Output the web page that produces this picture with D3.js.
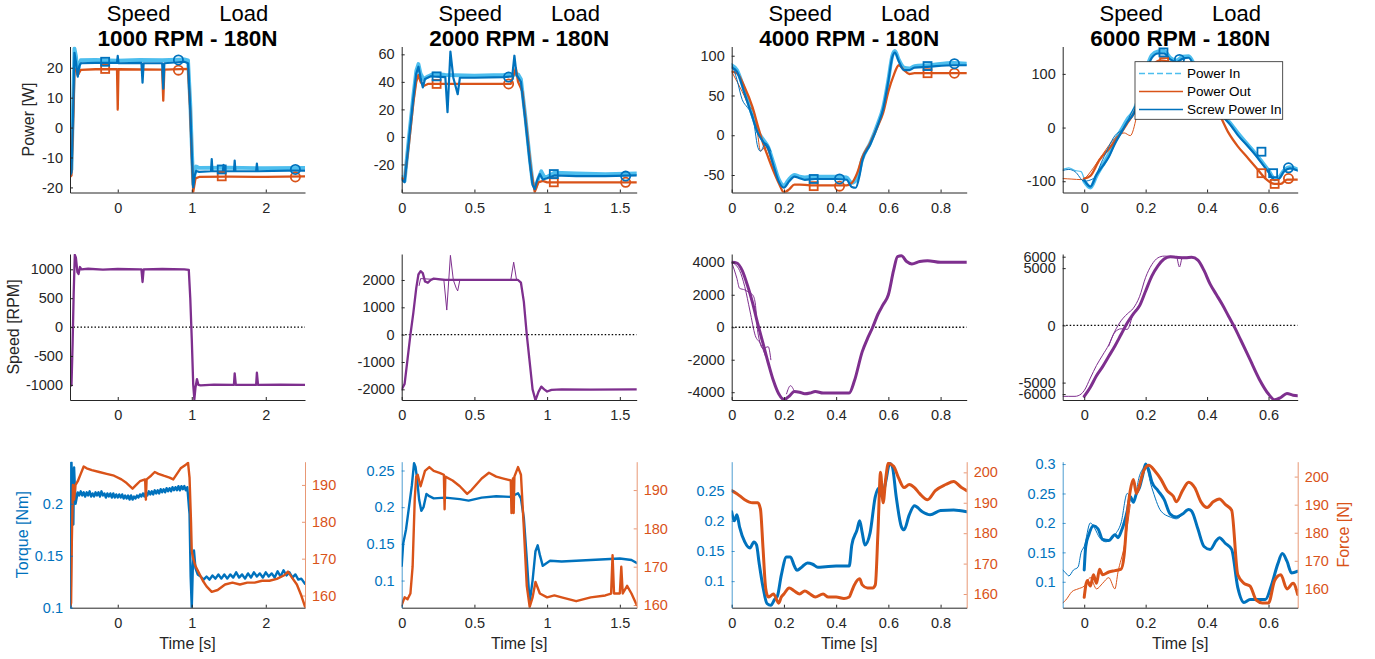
<!DOCTYPE html>
<html><head><meta charset="utf-8">
<script src="https://cdn.jsdelivr.net/npm/d3@7"></script>
<style>body{margin:0;background:#fff}svg{display:block}</style>
</head><body>
<svg id="chart" width="1375" height="659"></svg>
<script>
// ---------------- DATA ----------------
const titles = ["1000 RPM - 180N", "2000 RPM - 180N", "4000 RPM - 180N", "6000 RPM - 180N"];
const legendLabels = ["Power In", "Power Out", "Screw Power In"];

// x ticks per column
const xTicks = [[0,1,2],[0,0.5,1,1.5],[0,0.2,0.4,0.6,0.8],[0,0.2,0.4,0.6]];
const xDomains = [[-0.645,2.53],[0,1.616],[0,0.9],[-0.07,0.695]];
// y ticks / domains
const powerTicks = [[-20,-10,0,10,20],[-20,0,20,40,60],[-50,0,50,100],[-100,0,100]];
const powerDomains = [[-21.7,27.1],[-40.4,65.7],[-72,111.6],[-121,151]];
const speedTicks = [[-1000,-500,0,500,1000],[-2000,-1000,0,1000,2000],[-4000,-2000,0,2000,4000],[-6000,-5000,0,5000,6000]];
const speedDomains = [[-1262,1265],[-2390,2950],[-4480,4510],[-6520,6235]];
const torqueTicks = [[0.1,0.15,0.2],[0.1,0.15,0.2,0.25],[0.1,0.15,0.2,0.25],[0.1,0.15,0.2,0.25,0.3]];
const torqueDomains = [[0.1,0.2405],[0.063,0.262],[0.056,0.298],[0.056,0.304]];
const forceTicks = [[160,170,180,190],[160,170,180,190],[160,170,180,190,200],[160,170,180,190,200]];
const forceDomains = [[156.7,196.3],[159.3,197.4],[155.5,203.5],[153.3,205.3]];

// ---- Column 1 (1000 RPM) ----
const c1PowerIn = [[-0.645,-15],[-0.625,-14],[-0.6,12],[-0.585,26.5],[-0.565,24],[-0.54,18],[-0.52,21],[-0.5,22.5],[-0.3,22.6],[0,22.4],[0.3,22.6],[0.6,22.5],[0.9,22.8],[0.95,22.5],[0.98,8],[1.0,-6],[1.02,-19],[1.04,-15],[1.06,-13],[1.1,-13.5],[1.5,-13.4],[2.0,-13.6],[2.53,-13.5]];
const c1ScrewIn = [[-0.645,-16],[-0.625,-15],[-0.6,8],[-0.585,25],[-0.565,22],[-0.54,17],[-0.52,20.5],[-0.5,21.5],[-0.3,21.6],[-0.01,21.6],[0,24],[0.01,21.5],[0.32,21.6],[0.335,15],[0.35,21.5],[0.6,21.5],[0.615,13],[0.63,21.5],[0.9,22],[0.95,21.5],[0.98,6],[1.0,-8],[1.02,-20],[1.04,-16],[1.06,-14.5],[1.1,-14.8],[1.26,-14.6],[1.27,-10.5],[1.28,-14.6],[1.42,-14.6],[1.43,-12.5],[1.44,-14.6],[1.57,-14.6],[1.58,-11],[1.59,-14.6],[1.87,-14.6],[1.88,-12],[1.89,-14.6],[2.3,-14.4],[2.53,-14.4]];
const c1PowerOut = [[-0.645,-16.5],[-0.625,-16],[-0.6,4],[-0.585,19],[-0.56,19.5],[-0.54,17.5],[-0.5,19.3],[-0.3,19.5],[-0.01,19.5],[0,6],[0.01,19.5],[0.6,19.4],[0.615,9],[0.63,19.4],[0.95,19.6],[0.98,5],[1.0,-10],[1.02,-21.5],[1.05,-17],[1.1,-16.5],[1.5,-16.4],[2.0,-16.5],[2.53,-16.3]];
const c1SqBlue = [[-0.17,22],[1.405,-14]], c1SqOrange = [[-0.17,19.6],[1.405,-16.3]];
const c1CiBlue = [[0.82,22.6],[2.4,-14]], c1CiOrange = [[0.82,19.2],[2.4,-16.5]];
const c1Speed = [[-0.645,-1000],[-0.625,-1010],[-0.61,-300],[-0.595,600],[-0.58,1250],[-0.565,1200],[-0.545,950],[-0.53,920],[-0.51,1040],[-0.49,1000],[-0.4,1010],[-0.2,995],[0,1005],[0.3,1000],[0.32,1000],[0.335,780],[0.35,1000],[0.6,1005],[0.9,1000],[0.96,990],[0.98,500],[1.0,-200],[1.02,-1000],[1.035,-1250],[1.05,-1050],[1.07,-900],[1.09,-1000],[1.12,-1010],[1.3,-995],[1.57,-1000],[1.58,-800],[1.595,-1000],[1.87,-1000],[1.88,-790],[1.895,-1000],[2.2,-995],[2.53,-1000]];
const c1Torque = [[-0.645,0.13],[-0.635,0.1],[-0.625,0.24],[-0.61,0.2],[-0.6,0.18],[-0.59,0.235],[-0.57,0.2],[-0.54,0.211],[-0.52,0.208],[-0.5,0.212],[-0.48,0.208],[-0.46,0.211],[-0.44,0.207],[-0.42,0.211],[-0.4,0.208],[-0.38,0.212],[-0.36,0.207],[-0.34,0.21],[-0.32,0.207],[-0.3,0.211],[-0.28,0.208],[-0.26,0.211],[-0.24,0.207],[-0.22,0.212],[-0.2,0.208],[-0.18,0.21],[-0.16,0.206],[-0.14,0.21],[-0.12,0.207],[-0.1,0.21],[-0.08,0.206],[-0.06,0.21],[-0.04,0.206],[-0.02,0.209],[0,0.206],[0.02,0.209],[0.04,0.206],[0.06,0.209],[0.08,0.205],[0.1,0.208],[0.12,0.205],[0.14,0.208],[0.16,0.204],[0.18,0.208],[0.2,0.204],[0.22,0.207],[0.24,0.205],[0.26,0.208],[0.28,0.206],[0.3,0.209],[0.32,0.207],[0.34,0.21],[0.36,0.207],[0.38,0.211],[0.4,0.208],[0.42,0.212],[0.44,0.209],[0.46,0.212],[0.48,0.209],[0.5,0.213],[0.52,0.21],[0.54,0.213],[0.56,0.21],[0.58,0.214],[0.6,0.211],[0.62,0.214],[0.64,0.211],[0.66,0.215],[0.68,0.212],[0.7,0.215],[0.72,0.212],[0.74,0.216],[0.76,0.213],[0.78,0.216],[0.8,0.213],[0.82,0.217],[0.84,0.213],[0.86,0.217],[0.88,0.214],[0.9,0.217],[0.92,0.213],[0.94,0.216],[0.97,0.19],[0.985,0.13],[1.0,0.1],[1.015,0.14],[1.03,0.155],[1.05,0.138],[1.08,0.132],[1.12,0.13],[1.16,0.127],[1.2,0.13],[1.24,0.127],[1.28,0.131],[1.32,0.128],[1.36,0.132],[1.4,0.128],[1.44,0.132],[1.48,0.128],[1.52,0.132],[1.56,0.129],[1.6,0.134],[1.64,0.129],[1.68,0.132],[1.72,0.128],[1.76,0.133],[1.8,0.129],[1.84,0.134],[1.88,0.13],[1.92,0.133],[1.96,0.129],[2.0,0.134],[2.04,0.13],[2.08,0.133],[2.12,0.129],[2.16,0.135],[2.2,0.13],[2.24,0.136],[2.28,0.131],[2.32,0.134],[2.36,0.129],[2.4,0.132],[2.44,0.127],[2.48,0.128],[2.53,0.123]];
const c1Force = [[-0.645,157],[-0.63,158],[-0.62,175],[-0.605,190],[-0.59,186],[-0.57,190],[-0.54,191],[-0.5,193],[-0.46,195],[-0.42,194.5],[-0.35,194],[-0.25,193.5],[-0.15,193],[-0.05,192.5],[0.05,191.5],[0.12,190.5],[0.2,189],[0.25,190],[0.3,191],[0.37,191.5],[0.38,186],[0.39,191.5],[0.45,192.5],[0.5,193.5],[0.55,193],[0.62,192.5],[0.7,192],[0.75,191.5],[0.8,193],[0.85,194.5],[0.92,195.5],[0.95,196],[0.97,192],[0.99,180],[1.0,172],[1.02,170],[1.05,168],[1.1,166],[1.15,164],[1.2,162.5],[1.27,161],[1.35,161.5],[1.45,163],[1.55,163.5],[1.65,163],[1.75,163.5],[1.85,163.5],[1.95,164],[2.05,164],[2.15,164.5],[2.25,165.5],[2.3,166.5],[2.35,165],[2.42,163],[2.48,160],[2.53,157]];

// ---- Column 2 (2000 RPM) ----
const c2PowerIn = [[0,-29],[0.02,-32],[0.05,0],[0.08,30],[0.1,48],[0.115,53],[0.13,46],[0.15,42],[0.18,44],[0.22,46],[0.3,45],[0.5,44.5],[0.7,45],[0.8,45.5],[0.82,42],[0.85,15],[0.88,-15],[0.9,-33],[0.92,-37],[0.94,-30],[0.96,-25],[0.98,-29],[1.0,-29],[1.05,-26],[1.2,-26.5],[1.4,-27],[1.616,-26.5]];
const c2ScrewIn = [[0,-31],[0.02,-33],[0.05,-2],[0.08,28],[0.1,46],[0.115,51],[0.13,43],[0.145,36],[0.16,42],[0.2,44],[0.3,43.5],[0.315,18],[0.335,62],[0.355,43],[0.375,35],[0.385,31],[0.4,43],[0.5,43],[0.7,43.5],[0.76,44],[0.775,59],[0.79,45],[0.82,40],[0.85,12],[0.88,-18],[0.9,-35],[0.915,-38],[0.93,-32],[0.95,-27],[0.97,-31],[1.0,-30],[1.05,-28],[1.2,-28.5],[1.4,-28.5],[1.616,-28]];
const c2PowerOut = [[0,-30],[0.02,-31],[0.05,-5],[0.08,25],[0.1,40],[0.115,45],[0.13,40],[0.15,37],[0.18,38.5],[0.25,38.5],[0.5,38.5],[0.75,38.5],[0.77,45],[0.785,50],[0.8,40],[0.83,33],[0.86,5],[0.89,-25],[0.915,-40],[0.94,-33],[0.97,-32],[1.0,-33],[1.2,-33],[1.616,-33]];
const c2SqBlue = [[0.24,44],[1.046,-27]], c2SqOrange = [[0.24,38.5],[1.046,-33]];
const c2CiBlue = [[0.735,43.5],[1.54,-28.5]], c2CiOrange = [[0.735,38.5],[1.54,-33]];
const c2Speed = [[0,-2000],[0.02,-1800],[0.04,-900],[0.06,0],[0.08,800],[0.1,1700],[0.115,2200],[0.13,2320],[0.145,2250],[0.16,1950],[0.18,1900],[0.2,2000],[0.22,2050],[0.3,2000],[0.5,2000],[0.7,2000],[0.8,2000],[0.82,1900],[0.84,1200],[0.86,0],[0.88,-1000],[0.9,-2000],[0.92,-2400],[0.94,-2100],[0.96,-1900],[0.98,-2000],[1.0,-2080],[1.03,-2020],[1.1,-2000],[1.3,-2010],[1.616,-2000]];
const c2SpeedThin = [[0.12,1800],[0.13,2050],[0.29,2000],[0.31,900],[0.335,2900],[0.355,2000],[0.375,1700],[0.385,1600],[0.4,2000],[0.75,2000],[0.77,2650],[0.79,2000]];
const c2Torque = [[0,0.12],[0.01,0.15],[0.03,0.17],[0.05,0.2],[0.07,0.23],[0.085,0.26],[0.095,0.255],[0.105,0.24],[0.12,0.21],[0.135,0.195],[0.15,0.2],[0.17,0.218],[0.19,0.215],[0.22,0.212],[0.3,0.213],[0.4,0.211],[0.46,0.209],[0.55,0.213],[0.65,0.215],[0.75,0.214],[0.8,0.219],[0.82,0.212],[0.84,0.185],[0.86,0.13],[0.88,0.07],[0.9,0.1],[0.92,0.14],[0.935,0.148],[0.95,0.135],[0.97,0.12],[0.99,0.123],[1.02,0.127],[1.1,0.126],[1.2,0.127],[1.3,0.128],[1.4,0.129],[1.5,0.13],[1.58,0.128],[1.616,0.124]];
const c2Force = [[0,160],[0.02,162],[0.04,161.5],[0.06,163],[0.075,170],[0.09,188],[0.1,193.5],[0.11,194],[0.13,191],[0.16,195],[0.19,196],[0.22,195],[0.26,194.5],[0.29,194],[0.295,185],[0.3,193.5],[0.35,192.5],[0.4,191],[0.45,189],[0.48,190],[0.55,193],[0.6,194.5],[0.65,193.5],[0.7,193],[0.75,192.5],[0.755,184],[0.765,193],[0.77,184],[0.775,193.5],[0.8,196],[0.82,194],[0.84,180],[0.86,165],[0.88,159.5],[0.9,162],[0.92,166],[0.95,163],[1.0,162],[1.05,162.5],[1.1,162],[1.2,161],[1.3,162],[1.4,162.5],[1.44,163],[1.45,173],[1.46,163],[1.5,163],[1.51,170],[1.52,163],[1.55,165],[1.58,163],[1.616,160]];

// ---- Column 3 (4000 RPM) ----
const c3PowerIn = [[0,88],[0.02,82],[0.05,55],[0.08,25],[0.1,5],[0.12,-5],[0.14,-15],[0.16,-35],[0.18,-55],[0.2,-63],[0.22,-55],[0.24,-50],[0.26,-52],[0.28,-53],[0.32,-52],[0.4,-52],[0.44,-53],[0.46,-60],[0.48,-55],[0.5,-30],[0.53,-10],[0.56,15],[0.58,35],[0.6,70],[0.615,100],[0.625,106],[0.64,95],[0.66,85],[0.68,84],[0.7,87],[0.75,88],[0.85,91],[0.9,90]];
const c3ScrewIn = [[0,85],[0.02,80],[0.05,52],[0.08,22],[0.1,3],[0.12,-8],[0.14,-17],[0.16,-38],[0.18,-58],[0.2,-66],[0.22,-58],[0.24,-52],[0.26,-54],[0.28,-56],[0.32,-55],[0.4,-55],[0.44,-56],[0.46,-65],[0.475,-66],[0.49,-50],[0.5,-32],[0.53,-12],[0.56,13],[0.58,33],[0.6,68],[0.615,98],[0.625,104],[0.64,93],[0.66,82],[0.68,82],[0.7,85],[0.75,86],[0.85,88],[0.9,88]];
const c3PowerOut = [[0,80],[0.02,78],[0.05,60],[0.08,35],[0.1,12],[0.12,-10],[0.14,-28],[0.16,-45],[0.18,-60],[0.2,-72],[0.22,-68],[0.24,-62],[0.26,-62],[0.3,-63],[0.4,-63],[0.44,-63],[0.46,-60],[0.48,-48],[0.5,-28],[0.53,-10],[0.56,12],[0.58,28],[0.6,55],[0.62,75],[0.64,88],[0.66,82],[0.68,77],[0.7,78],[0.8,78],[0.9,78]];
const c3ScrewThin = [[0,90],[0.02,70],[0.04,45],[0.06,35],[0.08,25],[0.1,-15],[0.11,-20],[0.13,-10],[0.15,-20]];
const c3OutThin = [[0,80],[0.04,55],[0.07,35],[0.085,30],[0.1,0],[0.11,-20],[0.13,-15],[0.15,-30]];
const c3SqBlue = [[0.314,-55],[0.75,87]], c3SqOrange = [[0.314,-64],[0.75,78]];
const c3CiBlue = [[0.413,-55],[0.853,90]], c3CiOrange = [[0.413,-64],[0.853,78]];
const c3Speed = [[0,4000],[0.02,3950],[0.04,3500],[0.06,2600],[0.08,1500],[0.1,200],[0.12,-1000],[0.14,-2200],[0.16,-3300],[0.18,-4100],[0.2,-4450],[0.22,-4250],[0.24,-3950],[0.26,-4000],[0.28,-4100],[0.3,-4050],[0.32,-3950],[0.35,-4050],[0.4,-4050],[0.45,-4050],[0.47,-3300],[0.5,-1500],[0.52,-700],[0.54,0],[0.56,800],[0.58,1400],[0.6,2000],[0.62,3500],[0.635,4350],[0.65,4400],[0.67,4050],[0.69,3900],[0.72,4050],[0.75,4100],[0.8,4000],[0.9,4000]];
const c3SpeedThinA = [[0,4000],[0.02,3000],[0.03,2400],[0.05,2300],[0.07,2100],[0.08,2000],[0.09,1500],[0.1,-300],[0.12,-1300],[0.14,-1200],[0.15,-2000]];
const c3SpeedThinB = [[0,4000],[0.03,3500],[0.05,2500],[0.07,1000],[0.09,-500],[0.11,-1000],[0.13,-1800]];
const c3SpeedThinC = [[0.21,-4100],[0.225,-3600],[0.24,-3950]];
const c3Torque = [[0,0.215],[0.01,0.2],[0.02,0.21],[0.03,0.19],[0.05,0.165],[0.07,0.155],[0.085,0.165],[0.095,0.16],[0.105,0.13],[0.12,0.09],[0.135,0.063],[0.15,0.06],[0.165,0.07],[0.175,0.075],[0.19,0.11],[0.21,0.14],[0.225,0.14],[0.24,0.125],[0.25,0.118],[0.27,0.124],[0.29,0.13],[0.31,0.128],[0.33,0.123],[0.36,0.124],[0.4,0.125],[0.45,0.125],[0.46,0.16],[0.48,0.185],[0.49,0.2],[0.5,0.18],[0.51,0.16],[0.53,0.18],[0.55,0.24],[0.565,0.255],[0.575,0.24],[0.59,0.265],[0.605,0.295],[0.615,0.29],[0.63,0.24],[0.65,0.19],[0.66,0.185],[0.68,0.21],[0.7,0.225],[0.73,0.215],[0.76,0.21],[0.8,0.217],[0.85,0.218],[0.9,0.215]];
const c3Force = [[0,194],[0.02,193],[0.05,191],[0.08,190],[0.1,190],[0.11,188],[0.12,175],[0.13,162],[0.14,159],[0.16,160],[0.18,157],[0.19,159],[0.2,160],[0.22,162],[0.24,161],[0.26,160],[0.28,161],[0.3,160],[0.32,159],[0.35,160],[0.37,159],[0.4,159],[0.43,158.5],[0.45,159],[0.46,161],[0.47,163],[0.49,165],[0.5,163],[0.52,162],[0.54,162],[0.55,163],[0.56,180],[0.57,200],[0.58,190],[0.59,198],[0.6,203],[0.62,202],[0.64,198],[0.66,195],[0.68,196],[0.7,195],[0.72,193],[0.75,191],[0.78,194],[0.82,196],[0.85,197],[0.88,195],[0.9,194]];

// ---- Column 4 (6000 RPM) ----
const c4PowerIn = [[0,-100],[0.02,-112],[0.04,-90],[0.06,-70],[0.08,-50],[0.1,-25],[0.12,-5],[0.14,15],[0.16,30],[0.18,60],[0.2,105],[0.22,135],[0.24,142],[0.26,143],[0.28,130],[0.3,125],[0.32,132],[0.34,133],[0.36,115],[0.4,70],[0.45,25],[0.48,5],[0.5,-10],[0.53,-30],[0.56,-50],[0.58,-65],[0.6,-80],[0.62,-95],[0.635,-92],[0.65,-80],[0.67,-74],[0.695,-78]];
const c4PowerInThin = [[-0.07,-78],[-0.05,-75],[-0.03,-80],[-0.01,-82],[0,-95],[0.02,-110]];
const c4ScrewIn = [[0,-98],[0.02,-110],[0.04,-88],[0.06,-72],[0.08,-55],[0.1,-30],[0.12,-10],[0.14,10],[0.16,25],[0.18,55],[0.2,100],[0.22,130],[0.24,138],[0.26,138],[0.28,127],[0.3,122],[0.32,128],[0.34,130],[0.36,112],[0.4,68],[0.45,22],[0.48,2],[0.5,-14],[0.53,-33],[0.56,-53],[0.58,-68],[0.6,-83],[0.62,-98],[0.635,-95],[0.65,-82],[0.67,-76],[0.695,-80]];
const c4ScrewThin = [[-0.07,-80],[-0.05,-78],[-0.03,-82],[0,-100],[0.03,-95],[0.06,-60],[0.1,-15],[0.13,0],[0.16,35],[0.18,50]];
const c4PowerOut = [[0,-95],[0.02,-90],[0.05,-60],[0.08,-40],[0.1,-25],[0.12,-10],[0.14,8],[0.16,25],[0.18,50],[0.2,90],[0.22,115],[0.25,125],[0.28,122],[0.3,118],[0.33,115],[0.36,95],[0.4,65],[0.44,25],[0.47,-10],[0.5,-35],[0.53,-55],[0.56,-75],[0.59,-95],[0.62,-105],[0.64,-105],[0.66,-97],[0.695,-97]];
const c4OutThin = [[-0.07,-95],[-0.04,-96],[-0.01,-97],[0,-95],[0.03,-75],[0.06,-50],[0.1,-20],[0.13,-10],[0.15,-15],[0.17,20]];
const c4SqBlue = [[0.258,140],[0.577,-45],[0.615,-85]], c4SqOrange = [[0.26,122],[0.577,-85],[0.62,-105]];
const c4CiBlue = [[0.31,127],[0.665,-75]], c4CiOrange = [[0.665,-95]];
const c4Speed = [[0,-6200],[0.02,-5400],[0.04,-4400],[0.06,-3600],[0.08,-2700],[0.1,-1800],[0.12,-800],[0.14,200],[0.16,1000],[0.18,1700],[0.2,3000],[0.22,4300],[0.24,5200],[0.26,5800],[0.28,6000],[0.3,5950],[0.33,5900],[0.35,5950],[0.37,5700],[0.39,4800],[0.41,3600],[0.43,2700],[0.45,1800],[0.47,800],[0.49,-200],[0.51,-1300],[0.54,-3000],[0.57,-4700],[0.6,-6000],[0.62,-6500],[0.64,-6300],[0.66,-5950],[0.68,-6100],[0.695,-6150]];
const c4SpeedThinA = [[-0.07,-6200],[-0.03,-6200],[-0.02,-6150],[0,-5700],[0.02,-4600],[0.04,-3500],[0.06,-2600],[0.08,-1700],[0.1,-500],[0.12,400],[0.14,1000],[0.16,1500],[0.18,2500],[0.2,4200],[0.22,5300],[0.24,5900],[0.26,6050],[0.3,6000],[0.31,5100],[0.32,5950],[0.35,5950]];
const c4SpeedThinB = [[0.08,-1800],[0.1,-600],[0.12,-300],[0.14,-350],[0.16,1000],[0.18,1800]];
const c4Torque = [[0,0.12],[0.005,0.16],[0.015,0.18],[0.03,0.195],[0.045,0.19],[0.06,0.172],[0.08,0.17],[0.1,0.18],[0.11,0.175],[0.12,0.185],[0.14,0.22],[0.15,0.245],[0.16,0.235],[0.17,0.25],[0.18,0.26],[0.19,0.28],[0.2,0.3],[0.21,0.29],[0.22,0.27],[0.24,0.255],[0.26,0.24],[0.28,0.215],[0.3,0.21],[0.32,0.215],[0.34,0.223],[0.35,0.22],[0.37,0.19],[0.39,0.16],[0.41,0.155],[0.43,0.17],[0.44,0.175],[0.46,0.165],[0.48,0.155],[0.5,0.09],[0.52,0.065],[0.54,0.07],[0.56,0.07],[0.59,0.07],[0.61,0.095],[0.63,0.13],[0.645,0.148],[0.66,0.135],[0.675,0.115],[0.695,0.118]];
const c4TorqueThin = [[-0.07,0.12],[-0.06,0.115],[-0.05,0.11],[-0.035,0.12],[-0.02,0.125],[-0.01,0.15],[0,0.16],[0.02,0.2],[0.035,0.19],[0.05,0.175],[0.07,0.168],[0.1,0.18],[0.12,0.2],[0.14,0.25],[0.16,0.235],[0.18,0.28],[0.2,0.295],[0.22,0.26],[0.25,0.22],[0.28,0.21],[0.3,0.207],[0.33,0.222]];
const c4Force = [[0,157],[0.01,163],[0.02,161],[0.03,165],[0.04,162],[0.05,167],[0.06,165],[0.08,166],[0.1,166.5],[0.12,167],[0.13,172],[0.14,186],[0.15,195],[0.16,199],[0.17,194],[0.18,197],[0.19,201],[0.21,204],[0.23,202],[0.25,199],[0.27,195],[0.29,193],[0.3,191],[0.32,195],[0.34,198],[0.36,196],[0.38,191],[0.4,189],[0.42,191],[0.44,192],[0.46,190],[0.48,188],[0.5,165],[0.52,162],[0.54,161],[0.56,156],[0.58,155],[0.6,155],[0.62,163],[0.64,165],[0.66,160],[0.68,162],[0.695,158]];
const c4ForceThin = [[-0.07,155],[-0.06,156],[-0.04,159],[-0.02,160],[0,161],[0.02,164],[0.04,160],[0.06,162],[0.08,164],[0.1,160],[0.11,166],[0.13,175],[0.15,190]];

// ---------------- LAYOUT / STYLE ----------------
const FONT = '"Liberation Sans", Arial, Helvetica, sans-serif';
const COL_X = [70, 401.7, 731.7, 1062.7], PW = 235;
const ROW_Y = [46.5, 254, 461.7], PH = 146;
const C = {lb:"#4DBEEE", blue:"#0072BD", orange:"#D95319", purple:"#7E2F8E", axis:"#262626"};
const TICK_FS = 14.5, LABEL_FS = 16;

const svg = d3.select("#chart");
svg.append("rect").attr("width",1375).attr("height",659).attr("fill","#fff");
const fmt = d => String(d);
let clipId = 0;

function makePanel(ci, ri, yDomain) {
  const x0 = COL_X[ci], y0 = ROW_Y[ri];
  const x = d3.scaleLinear().domain(xDomains[ci]).range([x0, x0+PW]);
  const y = d3.scaleLinear().domain(yDomain).range([y0+PH, y0]);
  const id = "clip" + (clipId++);
  svg.append("clipPath").attr("id", id).append("rect").attr("x",x0).attr("y",y0).attr("width",PW).attr("height",PH);
  const plot = svg.append("g").attr("clip-path", `url(#${id})`);
  return {x, y, plot, x0, y0};
}
function styleAxis(g, color, textColor, lineOpacity=1) {
  g.attr("font-family", FONT).attr("font-size", TICK_FS);
  g.select(".domain").attr("stroke", color).attr("stroke-opacity", lineOpacity).attr("stroke-width", 1);
  g.selectAll(".tick line").attr("stroke", color).attr("stroke-opacity", lineOpacity);
  g.selectAll(".tick text").attr("fill", textColor);
}
function drawXAxis(p, ci) {
  const g = svg.append("g").attr("transform", `translate(0,${p.y0+PH})`)
    .call(d3.axisBottom(p.x).tickValues(xTicks[ci]).tickFormat(fmt).tickSize(-3).tickSizeOuter(0).tickPadding(10));
  styleAxis(g, C.axis, C.axis);
}
function drawYAxis(p, scale, ticks, side, color, textColor, op=1) {
  const ax = side === "left" ? d3.axisLeft(scale) : d3.axisRight(scale);
  const g = svg.append("g").attr("transform", `translate(${side==="left"?p.x0:p.x0+PW},0)`)
    .call(ax.tickValues(ticks).tickFormat(fmt).tickSize(-3).tickSizeOuter(0).tickPadding(7));
  styleAxis(g, color, textColor, op);
}
function line(p, data, color, width, yScale, curve=d3.curveLinear) {
  const ys = yScale || p.y;
  p.plot.append("path").datum(data)
    .attr("d", d3.line().x(d=>p.x(d[0])).y(d=>ys(d[1])).curve(curve))
    .attr("fill","none").attr("stroke",color).attr("stroke-width",width)
    .attr("stroke-linejoin","round").attr("stroke-linecap","round");
}
function squares(p, data, color) {
  p.plot.selectAll(null).data(data).enter().append("rect")
    .attr("x", d=>p.x(d[0])-4).attr("y", d=>p.y(d[1])-4).attr("width",8).attr("height",8)
    .attr("fill","none").attr("stroke",color).attr("stroke-width",1.8);
}
function circles(p, data, color) {
  p.plot.selectAll(null).data(data).enter().append("circle")
    .attr("cx", d=>p.x(d[0])).attr("cy", d=>p.y(d[1])).attr("r",4.6)
    .attr("fill","none").attr("stroke",color).attr("stroke-width",1.8);
}

const powerData = [
  {inn:c1PowerIn, screw:c1ScrewIn, out:c1PowerOut, sqB:c1SqBlue, sqO:c1SqOrange, ciB:c1CiBlue, ciO:c1CiOrange, curve:d3.curveLinear},
  {inn:c2PowerIn, screw:c2ScrewIn, out:c2PowerOut, sqB:c2SqBlue, sqO:c2SqOrange, ciB:c2CiBlue, ciO:c2CiOrange, curve:d3.curveLinear},
  {inn:c3PowerIn, screw:c3ScrewIn, out:c3PowerOut, thinB:[c3ScrewThin], thinO:[c3OutThin], sqB:c3SqBlue, sqO:c3SqOrange, ciB:c3CiBlue, ciO:c3CiOrange, curve:d3.curveMonotoneX},
  {inn:c4PowerIn, screw:c4ScrewIn, out:c4PowerOut, thinL:[c4PowerInThin], thinB:[c4ScrewThin], thinO:[c4OutThin], sqB:c4SqBlue, sqO:c4SqOrange, ciB:c4CiBlue, ciO:c4CiOrange, curve:d3.curveMonotoneX}
];
const speedData = [
  {main:c1Speed, thin:[], curve:d3.curveLinear},
  {main:c2Speed, thin:[c2SpeedThin], curve:d3.curveLinear},
  {main:c3Speed, thin:[c3SpeedThinA, c3SpeedThinB, c3SpeedThinC], curve:d3.curveMonotoneX},
  {main:c4Speed, thin:[c4SpeedThinA, c4SpeedThinB], curve:d3.curveMonotoneX}
];
const tfData = [
  {torque:c1Torque, force:c1Force, tThin:[], fThin:[], curve:d3.curveLinear},
  {torque:c2Torque, force:c2Force, tThin:[], fThin:[], curve:d3.curveLinear},
  {torque:c3Torque, force:c3Force, tThin:[], fThin:[], curve:d3.curveMonotoneX},
  {torque:c4Torque, force:c4Force, tThin:[c4TorqueThin], fThin:[c4ForceThin], curve:d3.curveMonotoneX}
];

for (let ci = 0; ci < 4; ci++) {
  const cx = COL_X[ci] + PW/2;
  // titles
  svg.append("text").attr("x",cx).attr("y",20.5).attr("text-anchor","middle")
    .attr("font-family",FONT).attr("font-size",22).attr("fill","#000").style("white-space","pre")
    .text("Speed        Load");
  svg.append("text").attr("x",cx).attr("y",45.5).attr("text-anchor","middle")
    .attr("font-family",FONT).attr("font-size",22.5).attr("font-weight","bold").attr("fill","#000")
    .text(titles[ci]);

  // ---- Row 1: power ----
  const pd = powerData[ci];
  const p1 = makePanel(ci, 0, powerDomains[ci]);
  (pd.thinL||[]).forEach(d => line(p1, d, C.lb, 1.2, null, pd.curve));
  line(p1, pd.inn, C.lb, 3.8, null, pd.curve);
  (pd.thinO||[]).forEach(d => line(p1, d, C.orange, 1, null, pd.curve));
  line(p1, pd.out, C.orange, 2.3, null, pd.curve);
  (pd.thinB||[]).forEach(d => line(p1, d, C.blue, 1, null, pd.curve));
  line(p1, pd.screw, C.blue, 2.2, null, pd.curve);
  squares(p1, pd.sqO, C.orange); circles(p1, pd.ciO, C.orange);
  squares(p1, pd.sqB, C.blue); circles(p1, pd.ciB, C.blue);
  drawXAxis(p1, ci);
  drawYAxis(p1, p1.y, powerTicks[ci], "left", C.axis, C.axis);

  // ---- Row 2: speed ----
  const sd = speedData[ci];
  const p2 = makePanel(ci, 1, speedDomains[ci]);
  p2.plot.append("line").attr("x1",p2.x0).attr("x2",p2.x0+PW).attr("y1",p2.y(0)).attr("y2",p2.y(0))
    .attr("stroke","#000").attr("stroke-width",1.3).attr("stroke-dasharray","1.5,2");
  sd.thin.forEach(d => line(p2, d, C.purple, 1, null, sd.curve));
  line(p2, sd.main, C.purple, ci >= 2 ? 3 : 2.3, null, sd.curve);
  drawXAxis(p2, ci);
  drawYAxis(p2, p2.y, speedTicks[ci], "left", C.axis, C.axis);

  // ---- Row 3: torque / force ----
  const td = tfData[ci];
  const p3 = makePanel(ci, 2, torqueDomains[ci]);
  const yF = d3.scaleLinear().domain(forceDomains[ci]).range([p3.y0+PH, p3.y0]);
  td.tThin.forEach(d => line(p3, d, C.blue, 1, null, td.curve));
  line(p3, td.torque, C.blue, ci >= 2 ? 3 : 2.4, null, td.curve);
  td.fThin.forEach(d => line(p3, d, C.orange, 1, yF, td.curve));
  line(p3, td.force, C.orange, ci >= 2 ? 3 : 2.4, yF, td.curve);
  drawXAxis(p3, ci);
  drawYAxis(p3, p3.y, torqueTicks[ci], "left", C.blue, C.blue, 0.7);
  drawYAxis(p3, yF, forceTicks[ci], "right", C.orange, C.orange, 0.6);
  svg.append("text").attr("x",cx).attr("y",649).attr("text-anchor","middle")
    .attr("font-family",FONT).attr("font-size",LABEL_FS).attr("fill",C.axis).text("Time [s]");
}

// axis labels
function yLabel(x, y, txt, color) {
  svg.append("text").attr("transform",`translate(${x},${y}) rotate(-90)`).attr("text-anchor","middle")
    .attr("font-family",FONT).attr("font-size",LABEL_FS).attr("fill",color).text(txt);
}
yLabel(34, ROW_Y[0]+PH/2, "Power [W]", C.axis);
yLabel(19, ROW_Y[1]+PH/2, "Speed [RPM]", C.axis);
yLabel(28, ROW_Y[2]+PH/2, "Torque [Nm]", C.blue);
yLabel(1349, ROW_Y[2]+PH/2, "Force [N]", C.orange);

// legend (column 4, top)
const lg = svg.append("g").attr("font-family",FONT).attr("font-size",13.5);
lg.append("rect").attr("x",1135).attr("y",61.7).attr("width",147.7).attr("height",57.6)
  .attr("fill","#fff").attr("stroke",C.axis).attr("stroke-width",0.8);
const legendStyles = [{c:C.lb, dash:"6,3"}, {c:C.orange, dash:null}, {c:C.blue, dash:null}];
legendLabels.forEach((lab, i) => {
  const yy = 73.5 + i*18;
  lg.append("line").attr("x1",1139).attr("x2",1183).attr("y1",yy).attr("y2",yy)
    .attr("stroke",legendStyles[i].c).attr("stroke-width",1.3).attr("stroke-dasharray",legendStyles[i].dash);
  lg.append("text").attr("x",1187).attr("y",yy+4.7).attr("fill","#000").text(lab);
});
</script>
</body></html>
